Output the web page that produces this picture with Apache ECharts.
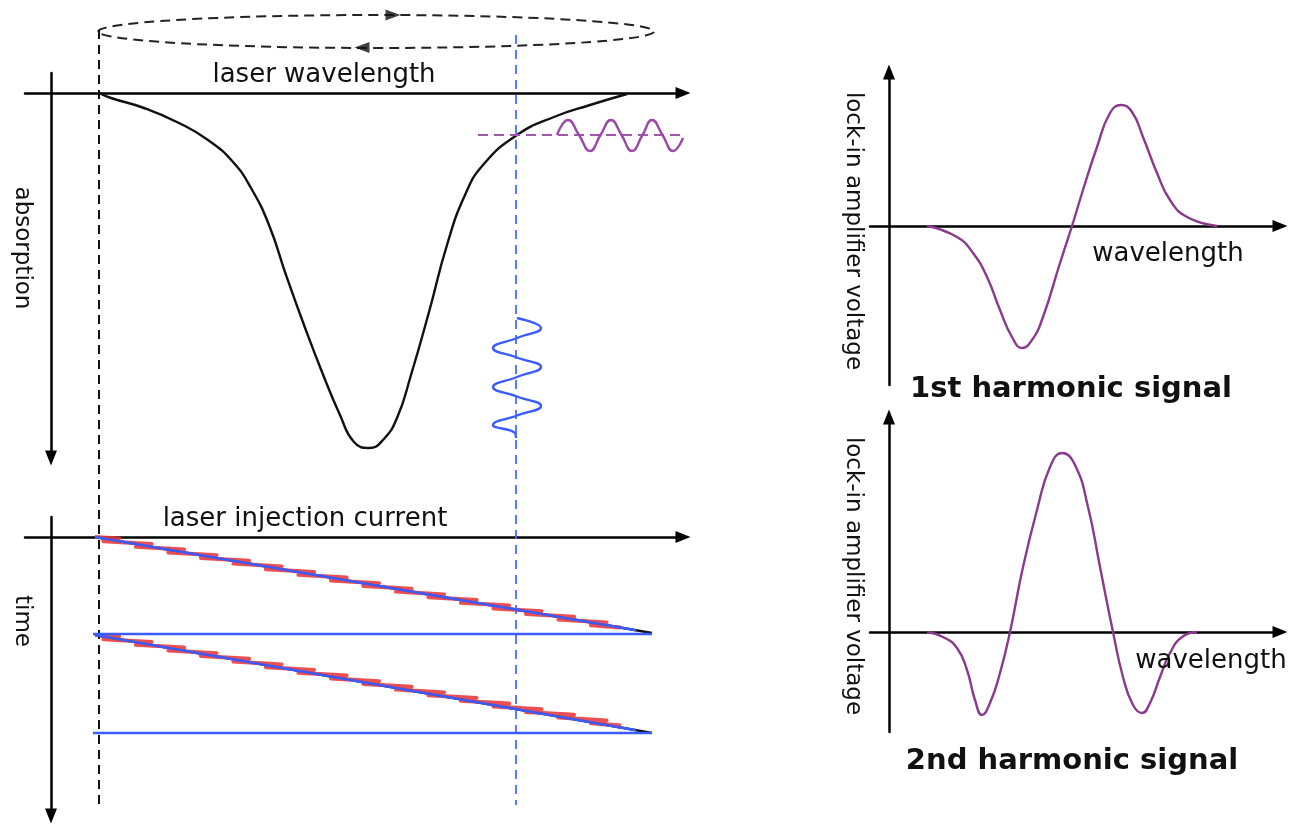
<!DOCTYPE html>
<html>
<head>
<meta charset="utf-8">
<script src="https://cdn.jsdelivr.net/npm/echarts@6/dist/echarts.min.js"></script>
<style>html,body{margin:0;padding:0;background:#fff}#c{width:1297px;height:827px}</style>
</head>
<body>
<div id="c"></div>
<script>
// ---------- data (units: wavelength / current offset, absorption, time, voltage) ----------
const absorptionCurve = [[48,0],[60,5],[93,15],[128,30],[157,47],[182,69],[200,95],[218,132],[235,182],[253,232],[271,279],[289,322],[303,349],[318,355],[332,347],[346,325],[360,282],[378,219],[396,152],[414,102],[432,72],[466,42],[503,24],[539,12],[576,1]];
const firstHarmonic = [[38,0],[68,-11],[84,-27],[98,-51],[111,-84],[123,-111],[133,-122],[143,-114],[154,-91],[171,-37],[183,0],[194,36],[208,79],[221,113],[232,121],[243,114],[254,89],[268,53],[281,26],[298,9],[328,0]];
const secondHarmonic = [[38,0],[54,-5],[68,-16],[78,-38],[86,-68],[93,-83],[101,-71],[111,-41],[121,0],[134,65],[148,122],[161,165],[173,179],[186,167],[199,125],[211,65],[224,0],[234,-45],[244,-73],[253,-81],[261,-71],[271,-45],[281,-21],[293,-5],[308,0]];
const rampScan1 = [[44,0],[601,96]];
const rampScan1Blue = [[44,0],[585,93.3]];
const rampReset1 = [[42,97],[601,97]];
const rampScan2 = [[44,98],[601,196]];
const rampScan2Blue = [[44,98],[585,193.3]];
const rampReset2 = [[42,196],[601,196]];
const modulation1 = [[44,0],[68.1,1.4],[52.4,4.2],[100.6,7.0],[84.9,9.8],[133.1,12.6],[117.4,15.4],[165.6,18.2],[149.9,21.0],[198.1,23.8],[182.4,26.6],[230.6,29.4],[214.9,32.2],[263.1,35.0],[247.4,37.8],[295.6,40.6],[279.9,43.4],[328.1,46.2],[312.4,49.0],[360.6,51.8],[344.9,54.6],[393.1,57.4],[377.4,60.2],[425.6,63.0],[409.9,65.8],[458.1,68.6],[442.4,71.4],[490.6,74.2],[474.9,77.0],[523.1,79.8],[507.4,82.6],[555.6,85.4],[539.9,88.2],[570,90.5]];
const modulation2 = [[44,98],[68.1,99.4],[52.4,102.2],[100.6,105.0],[84.9,107.8],[133.1,110.6],[117.4,113.4],[165.6,116.2],[149.9,119.0],[198.1,121.8],[182.4,124.6],[230.6,127.4],[214.9,130.2],[263.1,133.0],[247.4,135.8],[295.6,138.6],[279.9,141.4],[328.1,144.2],[312.4,147.0],[360.6,149.8],[344.9,152.6],[393.1,155.4],[377.4,158.2],[425.6,161.0],[409.9,163.8],[458.1,166.6],[442.4,169.4],[490.6,172.2],[474.9,175.0],[523.1,177.8],[507.4,180.6],[555.6,183.4],[539.9,186.2],[570,188.5]];
// overlay (wavelength vs. page depth)
const scanStartLine = [[48,30],[48,805]];
const operatingLine = [[465,35],[465,805]];
const operatingLevel = [[427,135],[654,135]];
const detectorSignal = [[506,135],[517,120],[528,135],[539,151],[549.5,135],[560,120],[570.5,135],[581,151],[591.5,135],[601,120],[611.5,135],[622,151],[632,138]];
const currentWiggle = [[466,318],[490,328],[466,338],[442,348],[466,357.5],[490,367],[466,377],[442,387],[466,396.5],[490,406],[466,415.5],[442,425],[464,433],[465,438]];
const scanLoop = [[325,31.5,278,16.5]];   // centre x, centre y, half-width, half-height
const loopArrowFwd = [[342,15]];
const loopArrowBack = [[311,47.5]];
const labels = ['laser wavelength','absorption','laser injection current','time','lock-in amplifier voltage','wavelength','1st harmonic signal','2nd harmonic signal'];

// ---------- chart ----------
const BLACK = '#111';
const PURPLE = '#8a3a8c';
const BLUE = '#3a5cff';
const RED = '#e8373a';

function axisLine(sym) {
  return {show: true, onZero: true, symbol: sym, symbolSize: [12, 15], lineStyle: {color: '#000', width: 2.5}};
}
function axis(gridIndex, min, max, opt) {
  return Object.assign({
    type: 'value', gridIndex, min, max,
    axisLine: axisLine(['none', 'triangle']),
    axisTick: {show: false}, axisLabel: {show: false}, splitLine: {show: false}
  }, opt || {});
}
function hidden(gridIndex, min, max, opt) {
  return Object.assign({type: 'value', gridIndex, min, max, show: false, splitLine: {show: false}}, opt || {});
}
function line(data, xi, style, extra) {
  return Object.assign({
    type: 'line', data, xAxisIndex: xi, yAxisIndex: xi, showSymbol: false, symbol: 'none',
    lineStyle: Object.assign({join: 'round', cap: 'butt'}, style), smooth: false, z: 3, silent: true, clip: false
  }, extra || {});
}
const F = '"DejaVu Sans", "Liberation Sans", sans-serif';
function txt(t, x, y, size, rot, bold) {
  return {type: 'text', x, y, rotation: rot || 0, silent: true, z: 10,
    style: {text: t, fill: BLACK, align: 'center', verticalAlign: 'middle',
      font: (bold ? 'bold ' : '') + size + 'px ' + F}};
}

const chart = echarts.init(document.getElementById('c'), null, {renderer: 'canvas'});
chart.setOption({
  animation: false,
  backgroundColor: '#fff',
  grid: [
    {left: 25, right: 614, top: 73, bottom: 369},   // 0 absorption
    {left: 25, right: 614, top: 517, bottom: 11},   // 1 time vs current
    {left: 870, right: 17, top: 72, bottom: 442},   // 2 1st harmonic
    {left: 870, right: 17, top: 417, bottom: 95},   // 3 2nd harmonic
    {left: 25, right: 614, top: 0, bottom: 0}       // 4 overlay
  ],
  xAxis: [
    axis(0, -26, 632, {position: 'top'}),
    axis(1, -26, 632, {position: 'top'}),
    axis(2, -19, 391),
    axis(3, -19, 391),
    hidden(4, -26, 632)
  ],
  yAxis: [
    axis(0, -20, 365, {inverse: true, axisLine: axisLine(['triangle', 'none'])}),
    axis(1, -20, 279, {inverse: true, axisLine: axisLine(['triangle', 'none'])}),
    axis(2, -159, 154),
    axis(3, -100, 215),
    hidden(4, 0, 827, {inverse: true})
  ],
  graphic: [
    txt(labels[0], 324, 75, 26),
    txt(labels[1], 22, 248, 23, -Math.PI / 2),
    txt(labels[2], 305, 519, 26),
    txt(labels[3], 22, 621, 23, -Math.PI / 2),
    txt(labels[4], 853, 231, 23, -Math.PI / 2),
    txt(labels[5], 1168, 254, 26),
    txt(labels[6], 1071, 389, 29, 0, true),
    txt(labels[4], 853, 576, 23, -Math.PI / 2),
    txt(labels[5], 1211, 661, 26),
    txt(labels[7], 1072, 761, 29, 0, true)
  ],
  series: [
    line(absorptionCurve, 0, {color: BLACK, width: 2.4}, {smooth: 0.5}),
    line(rampScan1, 1, {color: BLACK, width: 2.6}),
    line(rampScan2, 1, {color: BLACK, width: 2.6}),
    line(modulation1, 1, {color: RED, width: 4, opacity: 0.88}),
    line(modulation2, 1, {color: RED, width: 4, opacity: 0.88}),
    line(rampScan1Blue, 1, {color: BLUE, width: 2.4}, {z: 4}),
    line(rampScan2Blue, 1, {color: BLUE, width: 2.4}, {z: 4}),
    line(rampReset1, 1, {color: BLUE, width: 2.6}, {z: 4}),
    line(rampReset2, 1, {color: BLUE, width: 2.6}, {z: 4}),
    line(firstHarmonic, 2, {color: PURPLE, width: 2.4}, {smooth: 0.5}),
    line(secondHarmonic, 3, {color: PURPLE, width: 2.4}, {smooth: 0.5}),
    line(scanStartLine, 4, {color: BLACK, width: 2, type: [9, 6]}),
    line(operatingLine, 4, {color: '#4a6cff', width: 1.8, type: [9, 6]}),
    line(operatingLevel, 4, {color: '#a356ad', width: 2.2, type: [10, 6]}),
    line(detectorSignal, 4, {color: '#9a47a6', width: 2.4}, {smooth: 0.5}),
    line(currentWiggle, 4, {color: BLUE, width: 2.4}, {smooth: 0.5}),
    {type: 'custom', data: scanLoop, xAxisIndex: 4, yAxisIndex: 4, silent: true, z: 2, clip: false,
      renderItem: function (params, api) {
        const c = api.coord([api.value(0), api.value(1)]);
        const s = api.size([api.value(2), api.value(3)]);
        return {type: 'ellipse', shape: {cx: c[0], cy: c[1], rx: Math.abs(s[0]), ry: Math.abs(s[1])},
          style: {fill: 'none', stroke: '#222', lineWidth: 2, lineDash: [10, 6]}};
      }},
    {type: 'scatter', data: loopArrowFwd, xAxisIndex: 4, yAxisIndex: 4, symbol: 'triangle', symbolSize: [11, 15], symbolRotate: -90, silent: true, z: 5,
      itemStyle: {color: '#111'}},
    {type: 'scatter', data: loopArrowBack, xAxisIndex: 4, yAxisIndex: 4, symbol: 'triangle', symbolSize: [11, 15], symbolRotate: 90, silent: true, z: 5,
      itemStyle: {color: '#111'}}
  ]
});
</script>
</body>
</html>
